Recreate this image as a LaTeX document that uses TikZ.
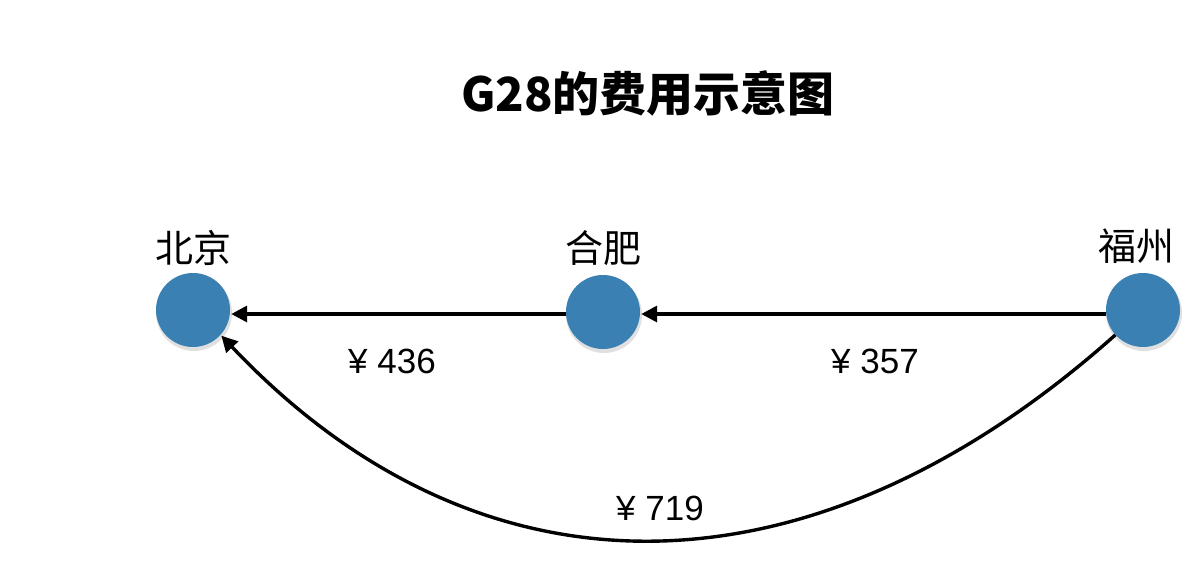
\documentclass[tikz,border=0pt]{standalone}
\usepackage{fontspec}
\setmainfont{Liberation Sans}
\newfontfamily\cjk{Noto Sans CJK SC}
\usetikzlibrary{arrows.meta}
\definecolor{nodeblue}{RGB}{58,128,178}
\tikzset{
  city/.style={circle, fill=nodeblue, minimum size=74pt, inner sep=0pt},
  citylabel/.style={font=\cjk\fontsize{38}{40}\selectfont, inner sep=0pt},
  price/.style={font=\fontsize{35}{38}\selectfont, inner sep=0pt},
  edge/.style={line width=3.4pt, -{Triangle[length=16pt,width=16pt]}, shorten >=1pt},
  shadowc/.style={circle, fill=black!12, minimum size=76pt, inner sep=0pt}
}
\begin{document}
\begin{tikzpicture}[x=1pt,y=-1pt]
\path[use as bounding box] (0,0) rectangle (1184,566);
\node[font=\cjk\bfseries\fontsize{47}{50}\selectfont, inner sep=0pt] (title) at (648,93) {G28的费用示意图};
% shadows
\node[shadowc] (bjs) at (194,313) {};
\node[shadowc] (hfs) at (604,315) {};
\node[shadowc] (fzs) at (1144,313) {};
\node[city] (bj) at (193,310) {};
\node[city] (hf) at (603,312) {};
\node[city] (fz) at (1143,310) {};
\node[citylabel] (bjl) at (193,248) {北京};
\node[citylabel] (hfl) at (603,248) {合肥};
\node[citylabel] (fzl) at (1136,246) {福州};
\draw[edge] (hf.west |- 0,314) -- (bj.east |- 0,314);
\draw[edge] (fz.west |- 0,314) -- (hf.east |- 0,314);
\draw[edge] (fz.222) .. controls (809,608) and (479,608) .. (bj.318);
\node[price] (p1) at (392,361) {¥ 436};
\node[price] (p2) at (875,361) {¥ 357};
\node[price] (p3) at (660,508) {¥ 719};
\end{tikzpicture}
\end{document}
